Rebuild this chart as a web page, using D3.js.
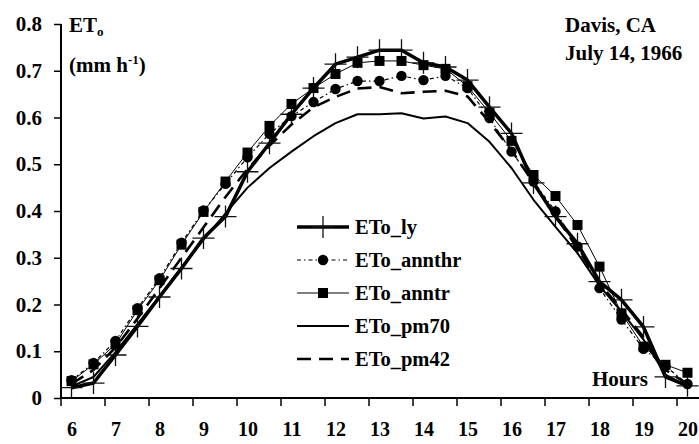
<!DOCTYPE html>
<html>
<head>
<meta charset="utf-8">
<script src="https://cdn.jsdelivr.net/npm/d3@7"></script>
<style>
  body { margin: 0; background: #fff; }
  text { font-family: "Liberation Serif", "Times New Roman", serif; font-weight: bold; fill: #000; }
</style>
</head>
<body>
<script>
// Size of the picture
var width = 699;
var height = 444;

// Hours of the day, every half hour
var hours = [6, 6.5, 7, 7.5, 8, 8.5, 9, 9.5, 10, 10.5, 11, 11.5, 12, 12.5, 13, 13.5,
             14, 14.5, 15, 15.5, 16, 16.5, 17, 17.5, 18, 18.5, 19, 19.5, 20];
var hourLabels = [6, 7, 8, 9, 10, 11, 12, 13, 14, 15, 16, 17, 18, 19, 20];
var yTicks = [0, 0.1, 0.2, 0.3, 0.4, 0.5, 0.6, 0.7, 0.8];

// ETo (mm/h)
var etoLy = [0.022, 0.032, 0.092, 0.153, 0.216, 0.277, 0.342, 0.388, 0.484, 0.545, 0.607, 0.663, 0.714, 0.729, 0.744, 0.744,
             0.717, 0.708, 0.680, 0.622, 0.566, 0.460, 0.388, 0.330, 0.249, 0.210, 0.152, 0.045, 0.026];
var etoAnnthr = [0.038, 0.075, 0.122, 0.192, 0.256, 0.332, 0.401, 0.458, 0.515, 0.565, 0.603, 0.633, 0.661, 0.678, 0.678, 0.689,
                 0.680, 0.689, 0.663, 0.599, 0.527, 0.463, 0.399, 0.324, 0.235, 0.168, 0.105, 0.068, 0.030];
var etoAnntr = [0.036, 0.072, 0.115, 0.188, 0.252, 0.328, 0.398, 0.463, 0.525, 0.582, 0.629, 0.663, 0.693, 0.717, 0.721, 0.721,
                0.712, 0.704, 0.667, 0.610, 0.550, 0.477, 0.432, 0.370, 0.281, 0.181, 0.110, 0.071, 0.054];
var etoPm70 = [0.025, 0.045, 0.098, 0.158, 0.218, 0.280, 0.338, 0.395, 0.450, 0.492, 0.527, 0.560, 0.588, 0.607, 0.607, 0.609,
               0.598, 0.602, 0.588, 0.548, 0.492, 0.424, 0.366, 0.310, 0.240, 0.185, 0.125, 0.050, 0.025];
var etoPm42 = [0.030, 0.060, 0.108, 0.170, 0.235, 0.300, 0.365, 0.430, 0.490, 0.540, 0.585, 0.622, 0.644, 0.662, 0.665, 0.652,
               0.655, 0.657, 0.645, 0.590, 0.530, 0.460, 0.390, 0.320, 0.245, 0.190, 0.130, 0.060, 0.030];

var seriesNames = ["ETo_ly", "ETo_annthr", "ETo_anntr", "ETo_pm70", "ETo_pm42"];

var svg = d3.select("body").append("svg")
  .attr("width", width)
  .attr("height", height);

// hour axis: points at the half hours, tick marks between them
var x = d3.scaleLinear().domain([5.75, 20.25]).range([60.5, 698.5]);
var y = d3.scaleLinear().domain([0, 0.8]).range([398, 24]);

// Style of each series (line + marker)
var styles = [
  {width: 3.5, dash: null,             marker: "cross"},
  {width: 1.2, dash: "4,3,1.5,3",      marker: "circle"},
  {width: 1,   dash: null,             marker: "square"},
  {width: 2,   dash: null,             marker: "none"},
  {width: 2.6, dash: "14,8",           marker: "none"}
];
var allSeries = [etoLy, etoAnnthr, etoAnntr, etoPm70, etoPm42];

var line = d3.line()
  .x(function(d, i) { return x(hours[i]); })
  .y(function(d) { return y(d); });

// Axes
var yAxis = d3.axisLeft(y)
  .tickValues(yTicks)
  .tickSize(7)
  .tickPadding(12)
  .tickFormat(function(d) { return d === 0 ? "0" : d.toFixed(1); });
var gy = svg.append("g").attr("transform", "translate(61,0)").call(yAxis);
gy.select(".domain").attr("stroke-width", 2).attr("d", "M0,24V398");
gy.selectAll(".tick line").attr("stroke-width", 1.5);
gy.selectAll("text").style("font-size", "21px").style("font-family", null);

var tickHours = hourLabels.map(function(h) { return h - 0.25; });
var xTickAxis = d3.axisBottom(x).tickValues(tickHours).tickSize(8).tickFormat("");
var gx = svg.append("g").attr("transform", "translate(0,398)").call(xTickAxis);
gx.select(".domain").attr("stroke-width", 2).attr("d", "M60,0H699");
gx.selectAll(".tick line").attr("stroke-width", 1.5);

var xLabelAxis = d3.axisBottom(x).tickValues(hourLabels).tickSize(0).tickPadding(24);
var gxl = svg.append("g").attr("transform", "translate(0,398)").call(xLabelAxis);
gxl.select(".domain").remove();
gxl.selectAll("text").style("font-size", "20px").style("font-family", null);

// Lines
var plot = svg.append("g");
allSeries.forEach(function(vals, k) {
  var s = styles[k];
  plot.append("path")
    .attr("d", line(vals))
    .attr("fill", "none")
    .attr("stroke", "#000")
    .attr("stroke-width", s.width)
    .attr("stroke-linejoin", "round")
    .attr("stroke-dasharray", s.dash);
});

function drawMarker(g, type, cx, cy) {
  if (type === "cross") {
    g.append("path")
      .attr("d", "M" + (cx - 11) + "," + cy + "H" + (cx + 11) + "M" + cx + "," + (cy - 11) + "V" + (cy + 11))
      .attr("stroke", "#111").attr("stroke-width", 1.3);
  } else if (type === "circle") {
    g.append("circle").attr("cx", cx).attr("cy", cy).attr("r", 5.2).attr("fill", "#000");
  } else if (type === "square") {
    g.append("rect").attr("x", cx - 5).attr("y", cy - 5).attr("width", 10).attr("height", 10).attr("fill", "#000");
  }
}

// Markers
allSeries.forEach(function(vals, k) {
  var g = plot.append("g");
  vals.forEach(function(v, i) {
    drawMarker(g, styles[k].marker, x(hours[i]), y(v));
  });
});

// Legend
var legend = svg.append("g");
seriesNames.forEach(function(name, k) {
  var ly = 227 + k * 33;
  var s = styles[k];
  legend.append("line")
    .attr("x1", 297).attr("x2", 349).attr("y1", ly).attr("y2", ly)
    .attr("stroke", "#000").attr("stroke-width", s.width)
    .attr("stroke-dasharray", s.dash);
  drawMarker(legend, s.marker, 323, ly);
  legend.append("text")
    .attr("x", 355).attr("y", ly + 7)
    .style("font-size", "20.5px")
    .text(name);
});

// Axis titles and annotation
var yt = svg.append("text").attr("x", 69).attr("y", 32).style("font-size", "21px");
yt.append("tspan").text("ET");
yt.append("tspan").attr("dy", 4).style("font-size", "13px").text("o");

var yu = svg.append("text").attr("x", 69).attr("y", 72).style("font-size", "21px");
yu.append("tspan").text("(mm h");
yu.append("tspan").attr("dy", -8).style("font-size", "13px").text("-1");
yu.append("tspan").attr("dy", 8).text(")");

svg.append("text").attr("x", 648).attr("y", 386).attr("text-anchor", "end")
  .style("font-size", "21px").text("Hours");

svg.append("text").attr("x", 565).attr("y", 32).style("font-size", "21px").text("Davis, CA");
svg.append("text").attr("x", 565).attr("y", 60).style("font-size", "21px").text("July 14, 1966");
</script>
</body>
</html>
